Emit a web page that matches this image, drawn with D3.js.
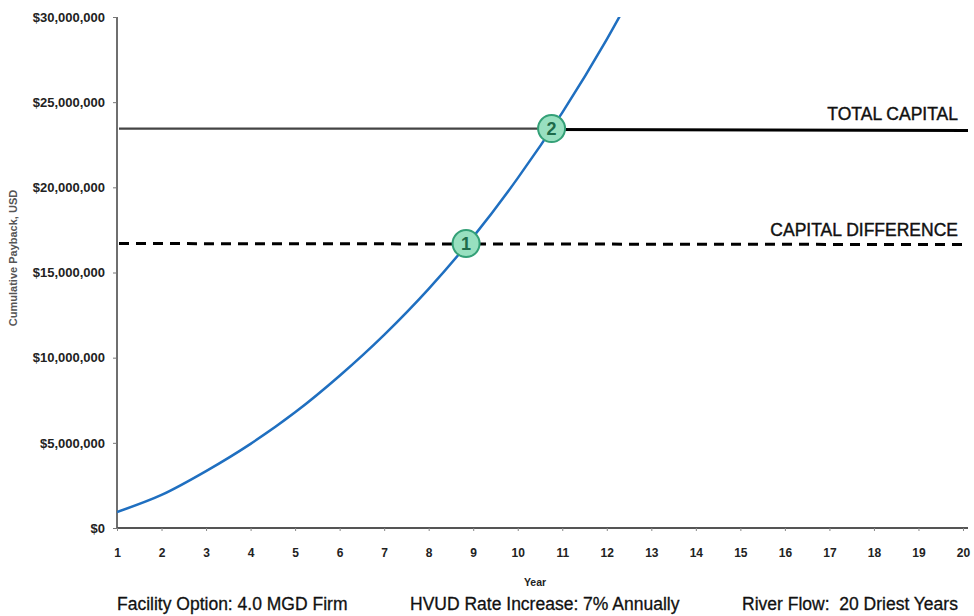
<!DOCTYPE html>
<html>
<head>
<meta charset="utf-8">
<script src="https://cdn.jsdelivr.net/npm/d3@7"></script>
<style>
  html, body { margin: 0; padding: 0; background: #fff; }
  svg { display: block; }
  text { font-family: "Liberation Sans", Arial, sans-serif; }
</style>
</head>
<body>
<svg id="chart" width="974" height="616"></svg>
<script>
// Cumulative payback by year (USD)
const years = [1, 2, 3, 4, 5, 6, 7, 8, 9, 10, 11, 12, 13];
const payback = [940000, 1940000, 3340000, 4940000, 6790000, 8940000, 11340000,
                 14040000, 17090000, 20540000, 24390000, 28690000, 33490000];

// Reference levels
const totalCapital = 23450000;
const capitalDifference = 16700000;

// Crossing markers
const markers = [
  { label: "1", year: 8.84, value: capitalDifference },
  { label: "2", year: 10.76, value: totalCapital }
];

const xTicks = d3.range(1, 21);
const yTicks = [0, 5000000, 10000000, 15000000, 20000000, 25000000, 30000000];

const footnotes = [
  { text: "Facility Option: 4.0 MGD Firm", x: 117 },
  { text: "HVUD Rate Increase: 7% Annually", x: 410 },
  { text: "River Flow:  20 Driest Years", x: 742 }
];

const svg = d3.select("#chart");
const x = d3.scaleLinear().domain([1, 20]).range([117, 963]);
const y = d3.scaleLinear().domain([0, 30000000]).range([528, 17]);
const xEnd = 968;

svg.append("defs").append("clipPath").attr("id", "plot")
  .append("rect").attr("x", 117).attr("y", 17).attr("width", xEnd - 117).attr("height", 511);

// Y axis
const yAxis = svg.append("g").attr("transform", "translate(117,0)")
  .call(d3.axisLeft(y).tickValues(yTicks).tickSize(4).tickPadding(8)
    .tickFormat(d => "$" + d3.format(",")(d)));
yAxis.select(".domain").attr("stroke", "#6f6f6f").attr("stroke-width", 2)
  .attr("d", `M0,${y(30000000)}V${y(0) + 1}`);
yAxis.selectAll(".tick line").attr("stroke", "#777");
yAxis.selectAll(".tick text").attr("font-size", 13).attr("font-weight", "bold")
  .attr("fill", "#222");

// X axis
const xAxis = svg.append("g").attr("transform", "translate(0,528)")
  .call(d3.axisBottom(x).tickValues(xTicks).tickSize(3).tickPadding(17).tickFormat(d3.format("d")));
xAxis.select(".domain").attr("stroke", "#555").attr("stroke-width", 2)
  .attr("d", `M117,0H${xEnd}`);
xAxis.selectAll(".tick line").attr("stroke", "#888");
xAxis.selectAll(".tick text").attr("font-size", 12).attr("font-weight", "bold").attr("fill", "#222");

// Axis titles
svg.append("text").attr("x", 535).attr("y", 586).attr("text-anchor", "middle")
  .attr("font-size", 10.5).attr("font-weight", "bold").attr("fill", "#222").text("Year");
svg.append("text").attr("transform", "translate(17,258) rotate(-90)").attr("text-anchor", "middle")
  .attr("font-size", 11).attr("font-weight", "bold").attr("fill", "#555")
  .text("Cumulative Payback, USD");

// Total capital line: lighter to the left of the crossing, heavy to the right
const m2 = markers[1];
svg.append("line").attr("x1", 119).attr("x2", x(m2.year))
  .attr("y1", y(totalCapital)).attr("y2", y(totalCapital))
  .attr("stroke", "#444").attr("stroke-width", 2.2);
svg.append("line").attr("x1", x(m2.year)).attr("x2", xEnd)
  .attr("y1", y(totalCapital) + 1).attr("y2", y(totalCapital) + 2)
  .attr("stroke", "#000").attr("stroke-width", 3);

// Capital difference dashed line
svg.append("line").attr("x1", 119).attr("x2", xEnd)
  .attr("y1", y(capitalDifference)).attr("y2", y(capitalDifference) + 1)
  .attr("stroke", "#000").attr("stroke-width", 3).attr("stroke-dasharray", "10,7");

// Level labels
const levelLabels = [
  { text: "TOTAL CAPITAL", y: 120 },
  { text: "CAPITAL DIFFERENCE", y: 236 }
];
svg.selectAll(".level").data(levelLabels).join("text")
  .attr("x", 958).attr("y", d => d.y).attr("text-anchor", "end")
  .attr("font-size", 17.5).attr("fill", "#111")
  .attr("stroke", "#111").attr("stroke-width", 0.4)
  .text(d => d.text);

// Payback curve
const line = d3.line().x((d, i) => x(years[i])).y(d => y(d)).curve(d3.curveMonotoneX);
svg.append("path").datum(payback).attr("clip-path", "url(#plot)")
  .attr("d", line).attr("fill", "none").attr("stroke", "#1f6fc0").attr("stroke-width", 2.5);

// Crossing markers
const mg = svg.selectAll(".marker").data(markers).join("g")
  .attr("transform", d => `translate(${x(d.year)},${y(d.value)})`);
mg.append("circle").attr("r", 13.5).attr("fill", "#98e0c0").attr("stroke", "#34a077").attr("stroke-width", 2);
mg.append("text").attr("text-anchor", "middle").attr("dy", "0.36em")
  .attr("font-size", 18).attr("font-weight", "bold").attr("fill", "#1d6b4a").text(d => d.label);

// Footnotes
svg.selectAll(".foot").data(footnotes).join("text")
  .attr("x", d => d.x).attr("y", 610).attr("font-size", 17.5).attr("fill", "#111")
  .attr("stroke", "#111").attr("stroke-width", 0.3)
  .style("white-space", "pre")
  .text(d => d.text);
</script>
</body>
</html>
